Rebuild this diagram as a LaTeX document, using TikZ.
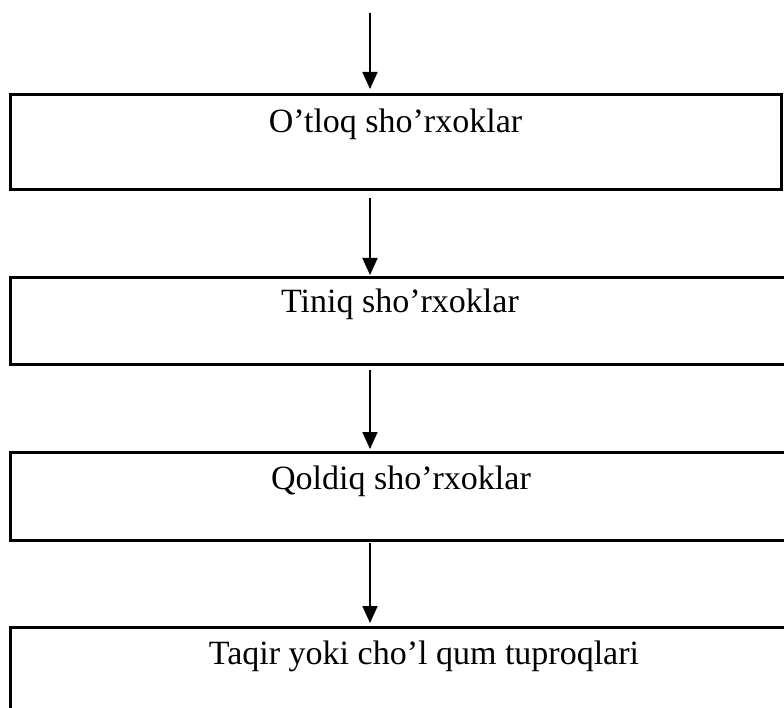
\documentclass[tikz,border=0pt]{standalone}
\usepackage{fontspec}
\setmainfont{Liberation Serif}
\usetikzlibrary{arrows.meta}
\begin{document}
\begin{tikzpicture}[x=1pt,y=-1pt,
  boxst/.style={draw=black,line width=3pt,rectangle,inner sep=0pt},
  lbl/.style={anchor=base,inner sep=0pt,font=\fontsize{34}{40}\selectfont},
  arr/.style={line width=1.8pt,-{Triangle[width=15pt,length=17pt]}}]
\clip (0,0) rectangle (784,708);
\fill[white] (0,0) rectangle (784,708);
% boxes
\node[boxst,minimum width=771pt,minimum height=95pt] (b1) at (395.5,142.5) {};
\node[boxst,minimum width=780pt,minimum height=86pt] (b2) at (400,321) {};
\node[boxst,minimum width=782pt,minimum height=88pt] (b3) at (401,496) {};
\node[boxst,minimum width=840pt,minimum height=160pt] (b4) at (430,707) {};
% labels
\node[lbl] (t1) at (395.5,133) {O’tloq sho’rxoklar};
\node[lbl] (t2) at (400,313) {Tiniq sho’rxoklar};
\node[lbl] (t3) at (401,489) {Qoldiq sho’rxoklar};
\node[lbl] (t4) at (424,664) {Taqir yoki cho’l qum tuproqlari};
% arrows
\coordinate (s0) at (370,13);
\coordinate (e0) at (370,89);
\coordinate (s1) at (370,198);
\coordinate (e1) at (370,275);
\coordinate (s2) at (370,370);
\coordinate (e2) at (370,449);
\coordinate (s3) at (370,543);
\coordinate (e3) at (370,623);
\draw[arr] (s0) -- (e0);
\draw[arr] (s1) -- (e1);
\draw[arr] (s2) -- (e2);
\draw[arr] (s3) -- (e3);
\end{tikzpicture}
\end{document}
